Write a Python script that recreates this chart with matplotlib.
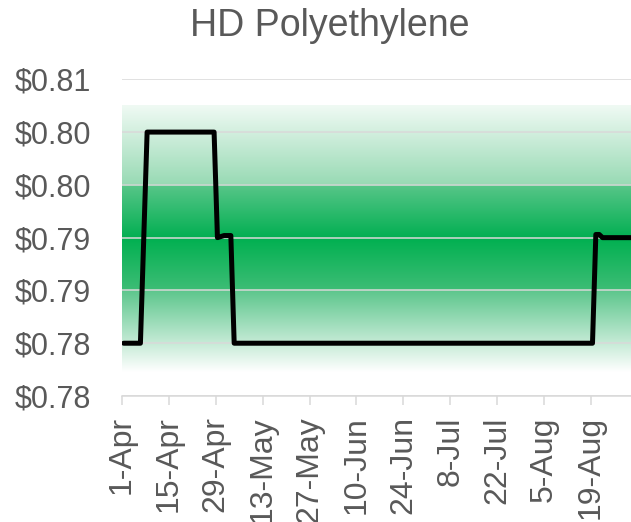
#!/usr/bin/env python
import numpy as np
import pandas as pd
import matplotlib
matplotlib.use("Agg")
import matplotlib.pyplot as plt
from matplotlib.colors import to_rgb

chart_title = "HD Polyethylene"

# price change points, the line runs straight between them
price_dates  = ["2019-04-01", "2019-04-06", "2019-04-08", "2019-04-28", "2019-04-29",
                "2019-05-01", "2019-05-03", "2019-05-04", "2019-08-19", "2019-08-20",
                "2019-08-21", "2019-08-22", "2019-08-31"]
price_values = [0.780, 0.780, 0.800, 0.800, 0.790,
                0.7902, 0.7902, 0.780, 0.780, 0.7903,
                0.7903, 0.790, 0.790]

y_ticks  = [0.775, 0.780, 0.785, 0.790, 0.795, 0.800, 0.805]
y_labels = ["$0.78", "$0.78", "$0.79", "$0.79", "$0.80", "$0.80", "$0.81"]

x_tick_dates = ["2019-04-01", "2019-04-15", "2019-04-29", "2019-05-13", "2019-05-27",
                "2019-06-10", "2019-06-24", "2019-07-08", "2019-07-22", "2019-08-05",
                "2019-08-19"]
x_labels = ["1-Apr", "15-Apr", "29-Apr", "13-May", "27-May", "10-Jun", "24-Jun",
            "8-Jul", "22-Jul", "5-Aug", "19-Aug"]

# green target band behind the line: (bottom, top, colour at bottom, colour at top)
band_segments = [
  (0.7773, 0.785, "#FFFFFF", "#5CC68C"),
  (0.785, 0.790, "#3EBD76", "#00B050"),
  (0.790, 0.795, "#03AF52", "#58C689"),
  (0.795, 0.8025, "#98DAB4", "#F0FAF4"),
]

text_col = "#595959"
grid_col = "#D9D9D9"


def band_image(segments, nrows=800):
  y0 = segments[0][0]
  y1 = segments[-1][1]
  ys = np.linspace(y0, y1, nrows)
  img = np.ones((nrows, 1, 3))
  for lo, hi, c_lo, c_hi in segments:
    sel = (ys >= lo) & (ys <= hi)
    t = (ys[sel] - lo) / (hi - lo)
    a = np.array(to_rgb(c_lo))
    b = np.array(to_rgb(c_hi))
    img[sel, 0, :] = a[None, :] * (1 - t[:, None]) + b[None, :] * t[:, None]
  return img, y0, y1


def main():
  plt.rcParams["font.family"] = ["Liberation Sans", "DejaVu Sans"]

  fig = plt.figure(figsize=(6.31, 5.22), dpi=100)
  ax = fig.add_axes([122 / 631, 1 - 396 / 522, (631 - 122) / 631, (396 - 79.3) / 522])

  x = pd.to_datetime(price_dates) + pd.Timedelta(hours=12)
  xmin = pd.Timestamp("2019-04-01")
  xmax = pd.Timestamp("2019-08-31")

  img, b0, b1 = band_image(band_segments)
  ax.imshow(img, origin="lower", aspect="auto", interpolation="bilinear",
            extent=(0, 1, b0, b1), transform=ax.get_yaxis_transform(), zorder=0)

  ax.plot(x, price_values, color="black", lw=3.6, zorder=3,
          solid_joinstyle="round", solid_capstyle="round")

  ax.set_xlim(xmin, xmax)
  ax.set_ylim(0.775, 0.805)

  ax.set_yticks(y_ticks)
  ax.set_yticklabels(y_labels)
  ax.set_xticks(pd.to_datetime(x_tick_dates))
  ax.set_xticklabels(x_labels, rotation=90)

  ax.set_axisbelow(True)
  ax.yaxis.grid(True, color=grid_col, linewidth=1.1)
  ax.xaxis.grid(False)

  for side in ["left", "right", "top"]:
    ax.spines[side].set_visible(False)
  ax.spines["bottom"].set_color(grid_col)
  ax.spines["bottom"].set_linewidth(1.1)

  ax.tick_params(axis="y", length=0, pad=22.4, labelsize=22, labelcolor=text_col)
  ax.tick_params(axis="x", length=6.5, width=1.1, color=grid_col, direction="out",
                 pad=8, labelsize=23, labelcolor=text_col)

  fig.text(330 / 631, 1 - 36 / 522, chart_title, ha="center", va="baseline",
           fontsize=27, color=text_col)

  fig.savefig("out.png", dpi=100)


if __name__ == "__main__":
  main()
